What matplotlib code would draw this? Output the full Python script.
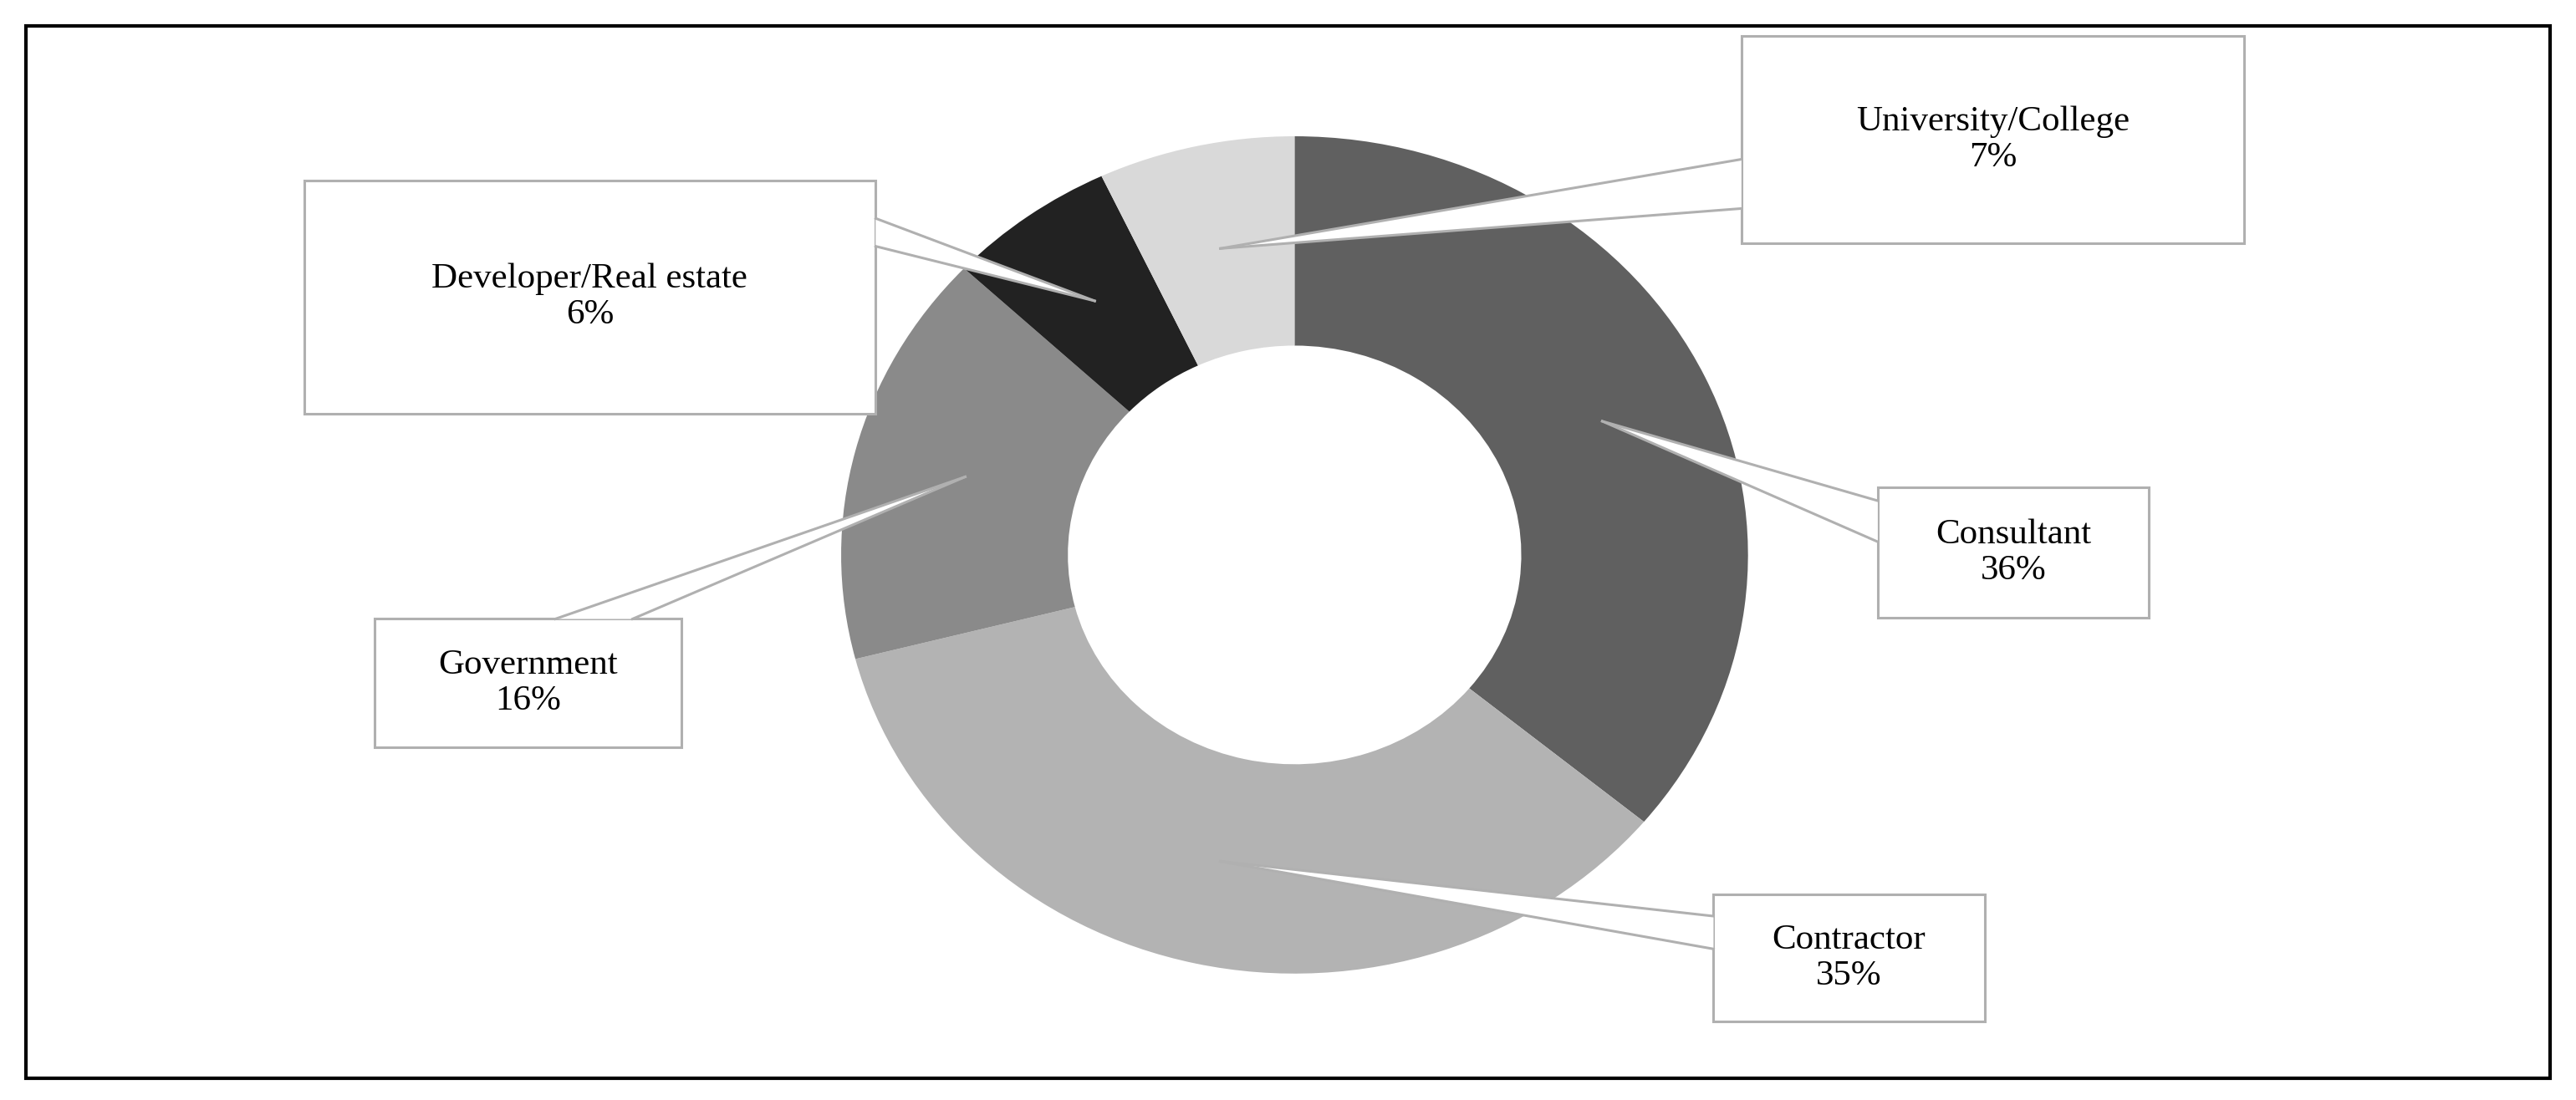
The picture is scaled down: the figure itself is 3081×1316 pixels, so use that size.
import matplotlib.pyplot as plt
from matplotlib.patches import Rectangle, Polygon
from matplotlib.lines import Line2D
import numpy as np

labels = ["Consultant", "Contractor", "Government", "Developer/Real estate", "University/College"]
shares = [36, 35, 16, 6, 7]
colors = ["#606060", "#b3b3b3", "#8a8a8a", "#222222", "#d9d9d9"]

W, H = 1568.0, 670.0  # layout grid (reference scaled)


def f(x, y):
    return x / W, 1 - y / H


fig = plt.figure(figsize=(30.81, 13.16), dpi=100)
fig.patches.append(Rectangle(f(16, 657), (1552 - 16) / W, (657 - 16) / H, transform=fig.transFigure,
                             fill=False, edgecolor="black", linewidth=3))

cx, cy, rx, ry = 788, 338, 276, 255
ax = fig.add_axes([(cx - rx) / W, 1 - (cy + ry) / H, 2 * rx / W, 2 * ry / H])
wedges, _ = ax.pie(shares, colors=colors, startangle=90, counterclock=False, radius=1,
                   wedgeprops=dict(width=0.5, linewidth=0))
ax.set_xlim(-1, 1)
ax.set_ylim(-1, 1)
ax.set_aspect("auto")
ax.axis("off")

# box (x0, y0, x1, y1) and pointer base points, in layout grid
boxes = [
    (1143, 297, 1308, 376, [(1143, 305), (1143, 330)]),
    (1043, 545, 1208, 622, [(1043, 558), (1043, 578)]),
    (228, 377, 415, 455, [(338, 377), (385, 377)]),
    (185, 110, 533, 252, [(533, 133), (533, 150)]),
    (1060, 22, 1366, 148, [(1060, 97), (1060, 127)]),
]

edge = "#b0b0b0"
total = sum(shares)
cum = 0
to_fig = fig.transFigure.inverted()
for lab, s, (x0, y0, x1, y1, base) in zip(labels, shares, boxes):
    mid = np.deg2rad(90 - (cum + s / 2) / total * 360)
    cum += s
    tip = to_fig.transform(ax.transData.transform((0.75 * np.cos(mid), 0.75 * np.sin(mid))))
    fig.patches.append(Rectangle(f(x0, y1), (x1 - x0) / W, (y1 - y0) / H, transform=fig.transFigure,
                                 facecolor="white", edgecolor=edge, linewidth=2.2, zorder=5))
    b1, b2 = f(*base[0]), f(*base[1])
    fig.patches.append(Polygon([b1, tuple(tip), b2], closed=True, transform=fig.transFigure,
                               facecolor="white", edgecolor="none", zorder=6))
    for b in (b1, b2):
        fig.lines.append(Line2D([b[0], tip[0]], [b[1], tip[1]], transform=fig.transFigure,
                                color=edge, linewidth=2.2, zorder=7))
    tx, ty = f((x0 + x1) / 2, (y0 + y1) / 2)
    fig.text(tx, ty, f"{lab}\n{s}%", ha="center", va="center", fontsize=31,
             family="Liberation Serif", linespacing=1.15, zorder=8)

fig.savefig("out.png", dpi=100)
